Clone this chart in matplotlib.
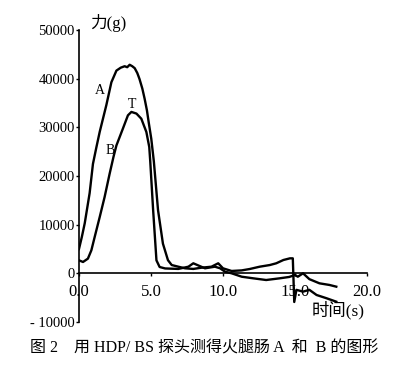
import matplotlib
matplotlib.use("Agg")
import matplotlib.pyplot as plt

# ---- data ----
t_a = [0, 0.2, 0.4, 0.74, 0.97, 1.2, 1.44, 1.9, 2.25, 2.6, 2.9, 3.17, 3.35, 3.52, 3.7, 3.87,
       4.05, 4.2, 4.4, 4.56, 4.72, 4.84, 5.02, 5.2, 5.49, 5.83, 6.18, 6.44, 6.9, 7.36, 7.94,
       8.5, 9.2, 9.67, 10.0, 10.6, 11.3, 11.85, 12.55, 13.25, 13.7, 14.2, 14.65, 14.85,
       14.95, 15.1, 15.56, 16.0, 16.5, 17.2, 17.87]
f_a = [5000, 7500, 10300, 16500, 22500, 25800, 29100, 34600, 39300, 41700, 42300, 42600,
       42400, 42900, 42600, 42200, 41200, 40000, 38000, 35900, 33500, 31100, 27700, 23000,
       13000, 6100, 2700, 1700, 1360, 1030, 900, 1150, 1360, 2060, 1030, 480, 600, 880,
       1360, 1700, 2060, 2740, 3080, 3080, -5900, -3400, -3770, -3400, -4460, -5140, -5840]

t_b = [0, 0.28, 0.62, 0.86, 1.09, 1.44, 1.78, 2.13, 2.4, 2.6, 3.05, 3.4, 3.64, 3.99, 4.33,
       4.68, 4.88, 4.95, 5.15, 5.38, 5.6, 5.98, 6.9, 7.6, 7.94, 8.3, 8.75, 9.44, 9.8, 10.14,
       10.6, 11.3, 12.1, 13.0, 13.94, 14.6, 15.0, 15.2, 15.56, 16.0, 16.7, 17.4, 17.87]
f_b = [2670, 2330, 3020, 4730, 7470, 11580, 15700, 20500, 24000, 26300, 29770, 32500, 33200,
       32860, 31800, 29070, 26000, 23000, 13000, 2670, 1300, 1000, 900, 1360, 2060, 1600,
       1030, 1360, 1030, 330, 0, -700, -1030, -1380, -1030, -750, -350, -700, 0, -1200,
       -2060, -2400, -2750]

y_ticks = [-10000, 0, 10000, 20000, 30000, 40000, 50000]
y_labels = ["- 10000", "0", "10000", "20000", "30000", "40000", "50000"]
x_ticks = [0, 5, 10, 15, 20]
x_labels = ["0.0", "5.0", "10.0", "15.0", "20.0"]

serif_cjk = ["Liberation Serif", "Noto Sans CJK SC"]

fig = plt.figure(figsize=(4.17, 3.69), dpi=100)
ax = fig.add_axes([0.1894, 0.1276, 0.6906, 0.7904])

ax.plot(t_a, f_a, color="black", lw=1.7)
ax.plot(t_b, f_b, color="black", lw=1.7)

ax.set_xlim(0, 20)
ax.set_ylim(-10000, 50000)

for s in ["top", "right"]:
    ax.spines[s].set_visible(False)
ax.spines["bottom"].set_position(("data", 0))
ax.spines["left"].set_linewidth(1.2)
ax.spines["bottom"].set_linewidth(1.2)

ax.set_yticks(y_ticks)
ax.set_yticklabels(y_labels, family="Liberation Serif", fontsize=10.5)
ax.set_xticks(x_ticks)
ax.set_xticklabels(x_labels, family="Liberation Serif", fontsize=12)
ax.tick_params(axis="y", direction="out", length=2, width=1, pad=1)
ax.tick_params(axis="x", direction="out", length=2.5, width=1, pad=5)

# annotations
ax.text(1.46, 37700, "A", family="Liberation Serif", fontsize=10, ha="center", va="center")
ax.text(3.66, 34770, "T", family="Liberation Serif", fontsize=10, ha="center", va="center")
ax.text(2.15, 25170, "B", family="Liberation Serif", fontsize=10, ha="center", va="center")

# axis titles
fig.text(108 / 417, 1 - 23 / 369, "力(g)", family=serif_cjk, fontsize=12, ha="center", va="center")
fig.text(338 / 417, 1 - 310 / 369, "时间(s)", family=serif_cjk, fontsize=12.5, ha="center", va="center")

# caption
fig.text(204 / 417, 1 - 348 / 369, "图 2    用 HDP/ BS 探头测得火腿肠 A  和  B 的图形",
         family=serif_cjk, fontsize=11.5, ha="center", va="center")

fig.savefig("out.png", dpi=100)
